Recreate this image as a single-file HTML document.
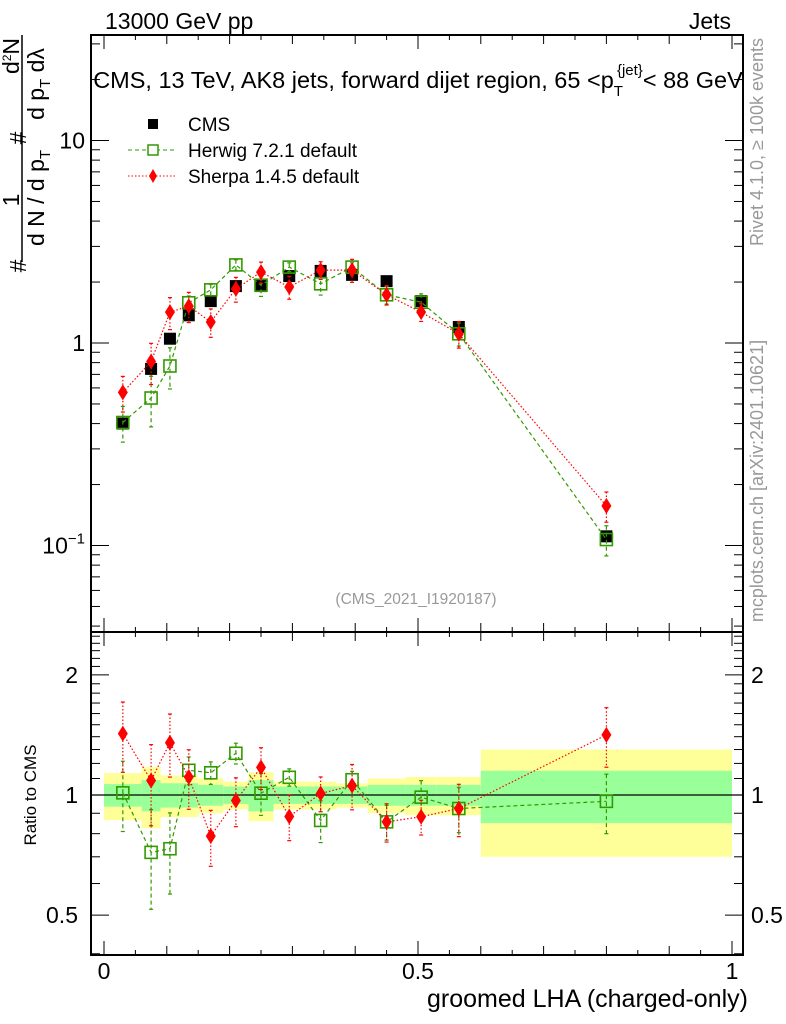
<!DOCTYPE html>
<html><head><meta charset="utf-8"><style>
html,body{margin:0;padding:0;background:#fff;}
svg{display:block;font-family:"Liberation Sans",sans-serif;}
</style></head><body>
<svg id="chart" width="786" height="1024" viewBox="0 0 786 1024" xmlns="http://www.w3.org/2000/svg">
<g id="bands"></g>
<g id="grid"></g>
<g id="series"></g>
<g id="axes"></g>
<text x="105" y="29" font-size="23">13000 GeV pp</text>
<text x="731" y="29" font-size="23" text-anchor="end">Jets</text>
<text x="418" y="88" font-size="23.5" text-anchor="middle">CMS, 13 TeV, AK8 jets, forward dijet region, 65 &lt;p<tspan font-size="15" dy="8">T</tspan><tspan font-size="15" dy="-21" dx="-6">{jet}</tspan><tspan dy="13">&lt; 88 GeV</tspan></text>
<text x="416" y="604" font-size="15.5" fill="#999" text-anchor="middle">(CMS_2021_I1920187)</text>
<text transform="translate(763,142) rotate(-90)" font-size="18" fill="#999" text-anchor="middle">Rivet 4.1.0, ≥ 100k events</text>
<text transform="translate(763,481) rotate(-90)" font-size="18" fill="#999" text-anchor="middle">mcplots.cern.ch [arXiv:2401.10621]</text>
<g font-size="23">
<line x1="22" y1="35" x2="22" y2="262" stroke="#000" stroke-width="1.5"/>
<text transform="translate(26,266) rotate(-90)" text-anchor="middle">#</text>
<text transform="translate(19,200) rotate(-90)" text-anchor="middle">1</text>
<text transform="translate(44,198) rotate(-90)" text-anchor="middle">d N / d p<tspan font-size="15" dy="6">T</tspan></text>
<text transform="translate(26,138) rotate(-90)" text-anchor="middle">#</text>
<text transform="translate(19,56) rotate(-90)" text-anchor="middle">d<tspan font-size="12" dy="-8">2</tspan><tspan dy="8">N</tspan></text>
<text transform="translate(44,84) rotate(-90)" text-anchor="middle">d p<tspan font-size="15" dy="6">T</tspan><tspan dy="-6"> dλ</tspan></text>
</g>
<text transform="translate(36,795) rotate(-90)" font-size="17" text-anchor="middle">Ratio to CMS</text>
<text x="748" y="1007" font-size="25" text-anchor="end">groomed LHA (charged-only)</text>
<g font-size="19">
<g><rect x="148" y="119" width="10" height="10" fill="#000"/><text x="188" y="131">CMS</text></g>
<g><line x1="128" y1="150" x2="176" y2="150" stroke="#339900" stroke-dasharray="4,3"/><rect x="148" y="145" width="10" height="10" fill="#fff" stroke="#339900" stroke-width="1.5"/><text x="188" y="157">Herwig 7.2.1 default</text></g>
<g><line x1="128" y1="176" x2="176" y2="176" stroke="#ff0000" stroke-dasharray="1.5,2"/><path d="M153,169 L157,176 L153,183 L149,176 Z" fill="#ff0000"/><text x="188" y="183">Sherpa 1.4.5 default</text></g>
</g>
</svg>
<script>
const binEdges=[0,0.06,0.09,0.12,0.15,0.19,0.23,0.27,0.32,0.37,0.42,0.48,0.53,0.6,1.0];
const binCenters=[0.03,0.075,0.105,0.135,0.17,0.21,0.25,0.295,0.345,0.395,0.45,0.505,0.565,0.8];
const cmsValues=[0.40,0.745,1.05,1.37,1.61,1.91,1.91,2.14,2.27,2.17,2.02,1.61,1.2,0.111];
const cmsTotalErr=[0.135,0.175,0.12,0.12,0.1,0.08,0.14,0.08,0.08,0.07,0.1,0.11,0.11,0.3];
const cmsStatErr=[0.065,0.09,0.07,0.07,0.06,0.05,0.09,0.05,0.05,0.05,0.06,0.06,0.06,0.15];
const herwigValues=[0.405,0.535,0.77,1.58,1.83,2.43,1.93,2.37,1.96,2.37,1.73,1.59,1.11,0.107];
const herwigRelErr=[0.2,0.28,0.23,0.08,0.065,0.06,0.12,0.05,0.12,0.05,0.1,0.1,0.13,0.17];
const sherpaValues=[0.57,0.81,1.42,1.52,1.27,1.85,2.24,1.89,2.29,2.29,1.73,1.42,1.11,0.157];
const sherpaRelErr=[0.2,0.23,0.18,0.17,0.16,0.14,0.12,0.13,0.1,0.13,0.11,0.1,0.15,0.17];
const xTicksMajor=[0,0.5,1];
const xTickLabels=["0","0.5","1"];
const mainYTicks=[0.1,1,10];
const mainYLabels=["10^-1","1","10"];
const ratioYTicks=[0.5,1,2];
const ratioYLabels=["0.5","1","2"];

const NS="http://www.w3.org/2000/svg";
const L=91,R=743,T=35,MB=632,RB=955;
const X0=104,X1=732;
function xs(v){return X0+(X1-X0)*v;}
function ym(v){return 343-202.5*Math.log10(v);}
function yr(v){return 795-399*Math.log10(v);}
function mk(parent,tag,attrs){const e=document.createElementNS(NS,tag);for(const k in attrs)e.setAttribute(k,attrs[k]);parent.appendChild(e);return e;}
const bands=document.getElementById('bands'),series=document.getElementById('series'),axes=document.getElementById('axes');

for(let i=0;i<binCenters.length;i++){
  const x0=Math.max(xs(binEdges[i]),L),x1=xs(binEdges[i+1]);
  const y=mk(bands,'rect',{x:x0,y:yr(1+cmsTotalErr[i]),width:x1-x0,height:yr(1-cmsTotalErr[i])-yr(1+cmsTotalErr[i]),fill:'#ffff99'});
  
  
  const g=mk(bands,'rect',{x:x0,y:yr(1+cmsStatErr[i]),width:x1-x0,height:yr(1-cmsStatErr[i])-yr(1+cmsStatErr[i]),fill:'#99ff99'});
  
  
}
mk(bands,'line',{x1:L,x2:R,y1:yr(1),y2:yr(1),stroke:'#000','stroke-width':1.2});

function drawSeries(vals,rel,color,dash,kind,yfun,ratio,name){
  const g=mk(series,'g',{});
  
  
  const v=vals.map((d,i)=>ratio?d/cmsValues[i]:d);
  let pts=v.map((d,i)=>xs(binCenters[i])+','+yfun(d)).join(' ');
  if(kind!=='cms')mk(g,'polyline',{points:pts,fill:'none',stroke:color,'stroke-width':1.2,'stroke-dasharray':dash});
  v.forEach((d,i)=>{
    const x=xs(binCenters[i]),y=yfun(d);
    if(kind!=='cms'){
      const y1=yfun(d*(1+rel[i])),y2=yfun(Math.max(d*(1-rel[i]),1e-3));
      mk(g,'line',{x1:x,x2:x,y1:y1,y2:y2,stroke:color,'stroke-width':1.2,'stroke-dasharray':dash});
      mk(g,'line',{x1:x-2,x2:x+2,y1:y1,y2:y1,stroke:color,'stroke-width':1.2});
      mk(g,'line',{x1:x-2,x2:x+2,y1:y2,y2:y2,stroke:color,'stroke-width':1.2});
    }
    let m;
    if(kind==='cms')m=mk(g,'rect',{x:x-6,y:y-6,width:12,height:12,fill:'#000'});
    else if(kind==='herwig')m=mk(g,'rect',{x:x-6,y:y-6,width:12,height:12,fill:'none',stroke:color,'stroke-width':1.6});
    else m=mk(g,'path',{d:`M${x},${y-8}L${x+5},${y}L${x},${y+8}L${x-5},${y}Z`,fill:color});
    
    
  });
}
drawSeries(cmsValues,cmsStatErr,'#000','','cms',ym,false,'cms-data');
drawSeries(herwigValues,herwigRelErr,'#339900','4,3','herwig',ym,false,'herwig-main');
drawSeries(sherpaValues,sherpaRelErr,'#ff0000','1.5,2','sherpa',ym,false,'sherpa-main');
drawSeries(herwigValues,herwigRelErr,'#339900','4,3','herwig',yr,true,'herwig-ratio');
drawSeries(sherpaValues,sherpaRelErr,'#ff0000','1.5,2','sherpa',yr,true,'sherpa-ratio');

mk(axes,'rect',{x:L,y:T,width:R-L,height:MB-T,fill:'none',stroke:'#000','stroke-width':2});
mk(axes,'rect',{x:L,y:MB,width:R-L,height:RB-MB,fill:'none',stroke:'#000','stroke-width':2});
for(let k=0;k<=20;k++){
  const v=k*0.05,x=xs(v);
  const len=(k%10===0)?14:(k%2===0?9:5);
  [[T,1],[MB,-1],[MB,1],[RB,-1]].forEach(([y0,s])=>mk(axes,'line',{x1:x,x2:x,y1:y0,y2:y0+s*len,stroke:'#000','stroke-width':1}));
}
xTicksMajor.forEach((v,i)=>{const t=mk(axes,'text',{x:xs(v),y:979,'font-size':23,'text-anchor':'middle'});t.textContent=xTickLabels[i];

});
for(let e=-2;e<=1;e++){for(let m=1;m<=9;m++){const v=m*Math.pow(10,e);const y=ym(v);if(y<T||y>MB)continue;
  const len=m===1?18:9;
  mk(axes,'line',{x1:L,x2:L+len,y1:y,y2:y,stroke:'#000'});
  mk(axes,'line',{x1:R,x2:R-len,y1:y,y2:y,stroke:'#000'});}}
mainYTicks.forEach((v,i)=>{const y=ym(v);let t;
  t=mk(axes,'text',{x:85,y:y+8,'font-size':23,'text-anchor':'end'});
  if(mainYLabels[i]==='10^-1'){t.innerHTML='10<tspan font-size="15" dy="-10">−1</tspan>';}
  else{t.textContent=mainYLabels[i];}
  
  });
for(let k=4;k<=25;k++){const v=k/10;const y=yr(v);if(y<MB||y>RB)continue;
  const len=(v===0.5||v===1||v===2)?18:9;
  mk(axes,'line',{x1:L,x2:L+len,y1:y,y2:y,stroke:'#000'});
  mk(axes,'line',{x1:R,x2:R-len,y1:y,y2:y,stroke:'#000'});}
ratioYTicks.forEach((v,i)=>{
  const t=mk(axes,'text',{x:78,y:yr(v)+8,'font-size':23,'text-anchor':'end'});t.textContent=ratioYLabels[i];
  
  
  const t2=mk(axes,'text',{x:751,y:yr(v)+8,'font-size':23});t2.textContent=ratioYLabels[i];
  
  });
</script>
</body></html>
